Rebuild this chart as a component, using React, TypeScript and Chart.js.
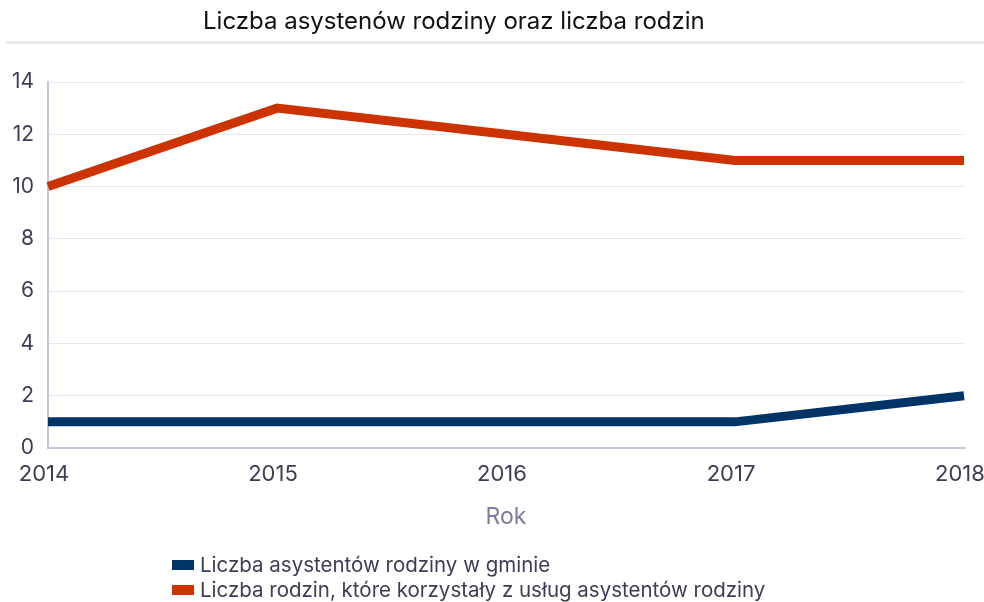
import React, { useEffect, useRef } from "react";
import { Chart, registerables } from "chart.js";

Chart.register(...registerables);

const TITLE = "Liczba asystenów rodziny oraz liczba rodzin";
const X_TITLE = "Rok";
const YEARS = ["2014", "2015", "2016", "2017", "2018"];
const ASSISTANTS = [1, 1, 1, 1, 2];
const FAMILIES = [10, 13, 12, 11, 11];
const SERIES_LABELS = [
  "Liczba asystentów rodziny w gminie",
  "Liczba rodzin, które korzystały z usług asystentów rodziny",
];
const SERIES_COLORS = ["#003366", "#cc3300"];

const FONT = "Inter, 'Noto Sans', sans-serif";

const decorPlugin = {
  id: "decor",
  afterDraw(chart: any) {
    const ctx = chart.ctx;
    ctx.save();
    // title
    ctx.font = `24px ${FONT}`;
    ctx.fillStyle = "#111111";
    ctx.textBaseline = "middle";
    ctx.textAlign = "left";
    ctx.fillText(TITLE, 203, 22);
    // rule under title
    ctx.fillStyle = "#e9e9ef";
    ctx.fillRect(6, 41, 978, 3);
    // legend
    ctx.font = `20.5px ${FONT}`;
    chart.data.datasets.forEach((ds: any, i: number) => {
      const y = 565 + i * 25;
      ctx.fillStyle = ds.borderColor;
      ctx.fillRect(172, y - 5, 22, 10);
      ctx.fillStyle = "#3d3d55";
      ctx.fillText(ds.label, 200, y + 1);
    });
    ctx.restore();
  },
};

export default function App() {
  const ref = useRef<HTMLCanvasElement | null>(null);
  useEffect(() => {
    if (!ref.current) return;
    const chart = new Chart(ref.current, {
      type: "line",
      data: {
        labels: YEARS,
        datasets: [
          {
            label: SERIES_LABELS[0],
            data: ASSISTANTS,
            borderColor: SERIES_COLORS[0],
            backgroundColor: SERIES_COLORS[0],
            borderWidth: 9,
            pointRadius: 0,
            tension: 0,
          },
          {
            label: SERIES_LABELS[1],
            data: FAMILIES,
            borderColor: SERIES_COLORS[1],
            backgroundColor: SERIES_COLORS[1],
            borderWidth: 9,
            pointRadius: 0,
            tension: 0,
          },
        ],
      },
      options: {
        animation: false,
        responsive: false,
        maintainAspectRatio: false,
        layout: { padding: { top: 82, right: 20, left: 0, bottom: 62 } },
        plugins: {
          legend: { display: false },
          title: { display: false },
          tooltip: { enabled: false },
        },
        scales: {
          x: {
            offset: false,
            grid: { display: false, drawTicks: false },
            border: { display: true, color: "#c6c6d8", width: 2 },
            ticks: {
              color: "#3d3d55",
              font: { family: FONT, size: 22 },
              padding: 13,
              labelOffset: -4,
              maxRotation: 0,
            },
            title: {
              display: true,
              text: X_TITLE,
              color: "#7d7d9b",
              font: { family: FONT, size: 23 },
              padding: { top: 0, bottom: 9 },
            },
            afterFit: (s: any) => {
              s.height = 92;
              s.paddingLeft = 0;
              s.paddingRight = 0;
            },
          },
          y: {
            min: 0,
            max: 14,
            grid: { color: "#e8e8ef", lineWidth: 1, drawTicks: false },
            border: { display: true, color: "#c6c6d8", width: 2 },
            ticks: {
              stepSize: 2,
              color: "#3d3d55",
              font: { family: FONT, size: 21 },
              padding: 14,
            },
            afterFit: (s: any) => {
              s.width = 48;
              s.paddingTop = 0;
              s.paddingBottom = 0;
            },
          },
        },
      },
      plugins: [decorPlugin],
    });
    return () => chart.destroy();
  }, []);
  return (
    <div style={{ position: "fixed", left: 0, top: 0, width: 984, height: 602, background: "#fff" }}>
      <canvas ref={ref} width={984} height={602} style={{ width: 984, height: 602 }} />
    </div>
  );
}
